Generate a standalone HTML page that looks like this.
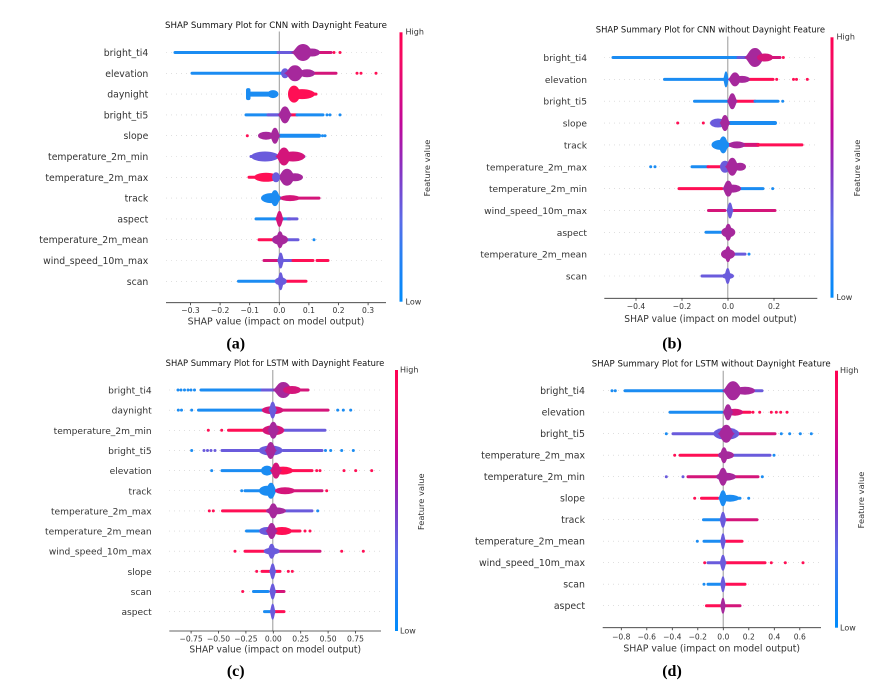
<!DOCTYPE html>
<html><head><meta charset="utf-8"><style>
html,body{margin:0;padding:0;background:#fff;}
svg{display:block;}
.l{font-family:"DejaVu Sans","Liberation Sans",sans-serif;font-size:9.3px;fill:#333;text-anchor:end;}
.t{font-family:"DejaVu Sans","Liberation Sans",sans-serif;font-size:7.6px;fill:#333;text-anchor:middle;}
.ti{font-family:"DejaVu Sans","Liberation Sans",sans-serif;font-size:8.6px;fill:#111;text-anchor:middle;}
.ax{font-family:"DejaVu Sans","Liberation Sans",sans-serif;font-size:9.3px;fill:#333;text-anchor:middle;}
.cb{font-family:"DejaVu Sans","Liberation Sans",sans-serif;font-size:8px;fill:#333;}
.fv{font-family:"DejaVu Sans","Liberation Sans",sans-serif;font-size:8.3px;fill:#333;text-anchor:middle;}
.cap{font-family:"Liberation Serif",serif;font-weight:bold;font-size:16px;fill:#000;text-anchor:middle;}
.b{fill:#1b8cf2}.r{fill:#ff0f55}.p{fill:#a6289c}.v{fill:#6a5bdc}.m{fill:#d4157a}
.sb,.sr,.sp,.sv,.sm{stroke-width:3;stroke-linecap:round;fill:none}
.sb{stroke:#1b8cf2}.sr{stroke:#ff0f55}.sp{stroke:#a6289c}.sv{stroke:#6a5bdc}.sm{stroke:#d4157a}
.g{stroke:#ccc;stroke-width:0.6;stroke-dasharray:1 4;fill:none}
.z{stroke:#999;stroke-width:1}
.a{stroke:#333;stroke-width:0.8;fill:none}
</style></head><body>
<svg width="894" height="684" viewBox="0 0 894 684" xmlns="http://www.w3.org/2000/svg">
<defs>
<linearGradient id="cg" x1="0" y1="1" x2="0" y2="0">
<stop offset="0" stop-color="#008bfb"/>
<stop offset="0.18" stop-color="#2a7ff2"/>
<stop offset="0.3" stop-color="#5a6be8"/>
<stop offset="0.5" stop-color="#8a30c0"/>
<stop offset="0.66" stop-color="#c0089a"/>
<stop offset="0.9" stop-color="#f50a62"/>
<stop offset="1" stop-color="#ff0052"/>
</linearGradient>
<path id="vi" d="M-1 0C-0.6 -0.12 -0.55 -1 0 -1C0.55 -1 0.6 -0.12 1 0C0.6 0.12 0.55 1 0 1C-0.55 1 -0.6 0.12 -1 0Z"/>
</defs>

<!-- ================= PANEL A ================= -->
<text class="ti" x="276" y="28" textLength="222" lengthAdjust="spacingAndGlyphs">SHAP Summary Plot for CNN with Daynight Feature</text>
<line class="z" x1="279.3" y1="31.5" x2="279.3" y2="302.7"/>
<g transform="translate(0,52.5)"><path class="g" d="M166 0H386"/><text class="l" x="148.3" y="3.5">bright_ti4</text>
<path class="sb" d="M175 0H288"/><path class="sv" d="M278 0H294"/><path class="sm" d="M315 0H331"/>
<use href="#vi" class="p" transform="translate(303 0) scale(12.5 8.5)"/><ellipse class="p" cx="312" rx="8" ry="4"/>
<circle class="r" cx="334" r="1.5"/><circle class="r" cx="340" r="1.5"/></g>
<g transform="translate(0,73.3)"><path class="g" d="M166 0H386"/><text class="l" x="148.3" y="3.5">elevation</text>
<path class="sb" d="M192 0H284"/><path class="sm" d="M300 0H336"/>
<ellipse class="v" cx="285" rx="4" ry="5"/><use href="#vi" class="p" transform="translate(295 0) scale(11.25 8)"/><ellipse class="p" cx="307" rx="8" ry="4"/>
<circle class="r" cx="357" r="1.5"/><circle class="r" cx="361" r="1.5"/><circle class="r" cx="376" r="1.5"/></g>
<g transform="translate(0,94.1)"><path class="g" d="M166 0H386"/><text class="l" x="148.3" y="3.5">daynight</text>
<rect class="b" x="246" y="-6" width="4.5" height="12" rx="2"/><rect class="b" x="248" y="-2.5" width="25" height="5" rx="2"/>
<ellipse class="b" cx="273" rx="5.5" ry="4"/>
<ellipse class="r" cx="294" rx="6" ry="8.5"/><ellipse class="r" cx="302" rx="13" ry="5"/><path class="sr" d="M305 0H316"/></g>
<g transform="translate(0,114.9)"><path class="g" d="M166 0H386"/><text class="l" x="148.3" y="3.5">bright_ti5</text>
<path class="sb" d="M246 0H281"/><path class="sv" d="M268 0H281"/><path class="sr" d="M289 0H297"/><path class="sb" d="M297 0H323"/>
<use href="#vi" class="p" transform="translate(285 0) scale(7.5 8.5)"/>
<circle class="b" cx="327" r="1.5"/><circle class="b" cx="330" r="1.5"/><circle class="b" cx="340" r="1.5"/></g>
<g transform="translate(0,135.7)"><path class="g" d="M166 0H386"/><text class="l" x="148.3" y="3.5">slope</text>
<circle class="r" cx="247.3" r="1.5"/><rect class="b" x="278" y="-2" width="43" height="4" rx="2"/>
<ellipse class="p" cx="266" rx="8" ry="4"/><use href="#vi" class="p" transform="translate(275 0) scale(5.6 8)"/>
<circle class="b" cx="322.5" r="1.5"/><circle class="b" cx="325" r="1.5"/></g>
<g transform="translate(0,156.5)"><path class="g" d="M166 0H386"/><text class="l" x="148.3" y="3.5">temperature_2m_min</text>
<path class="sv" d="M251 0H304"/>
<ellipse class="v" cx="265" rx="14" ry="5"/><ellipse class="m" cx="293" rx="12" ry="5"/><use href="#vi" class="m" transform="translate(284 0) scale(8.75 9)"/></g>
<g transform="translate(0,177.3)"><path class="g" d="M166 0H386"/><text class="l" x="148.3" y="3.5">temperature_2m_max</text>
<path class="sr" d="M249 0H270"/>
<ellipse class="r" cx="266" rx="12" ry="4.5"/><ellipse class="p" cx="295" rx="8" ry="4"/><use href="#vi" class="p" transform="translate(287 0) scale(10 8.5)"/><ellipse class="v" cx="276" rx="4" ry="5"/></g>
<g transform="translate(0,198.1)"><path class="g" d="M166 0H386"/><text class="l" x="148.3" y="3.5">track</text>
<path class="sm" d="M278 0H319"/>
<ellipse class="b" cx="271" rx="10" ry="5"/><use href="#vi" class="b" transform="translate(275 0) scale(6.25 8)"/><ellipse class="m" cx="290" rx="10" ry="3"/></g>
<g transform="translate(0,218.9)"><path class="g" d="M166 0H386"/><text class="l" x="148.3" y="3.5">aspect</text>
<path class="sb" d="M256 0H290"/><path class="sv" d="M288 0H297"/>
<use href="#vi" class="m" transform="translate(279.5 0) scale(4.4 8)"/></g>
<g transform="translate(0,239.7)"><path class="g" d="M166 0H386"/><text class="l" x="148.3" y="3.5">temperature_2m_mean</text>
<path class="sr" d="M259 0H276"/><path class="sv" d="M286 0H298"/>
<ellipse class="p" cx="280" rx="8" ry="5"/><use href="#vi" class="p" transform="translate(280 0) scale(5 8.5)"/>
<circle class="b" cx="314" r="1.5"/></g>
<g transform="translate(0,260.5)"><path class="g" d="M166 0H386"/><text class="l" x="148.3" y="3.5">wind_speed_10m_max</text>
<path class="sm" d="M264 0H279"/><path class="sv" d="M283 0H293"/><path class="sr" d="M293 0H313"/><path class="sr" d="M317 0H328"/>
<use href="#vi" class="v" transform="translate(280.7 0) scale(3.75 8)"/></g>
<g transform="translate(0,281.3)"><path class="g" d="M166 0H386"/><text class="l" x="148.3" y="3.5">scan</text>
<path class="sb" d="M238.5 0H277"/><path class="sr" d="M285 0H306"/>
<ellipse class="v" cx="280.7" rx="6" ry="4"/><use href="#vi" class="v" transform="translate(280.7 0) scale(3.75 9)"/></g>
<path class="a" d="M166 302.7H386"/>
<path class="a" d="M190.5 302.7v2.5M220.1 302.7v2.5M249.7 302.7v2.5M279.3 302.7v2.5M308.9 302.7v2.5M338.5 302.7v2.5M368.1 302.7v2.5"/>
<text class="t" x="190.5" y="312.8">−0.3</text><text class="t" x="220.1" y="312.8">−0.2</text><text class="t" x="249.7" y="312.8">−0.1</text><text class="t" x="279.3" y="312.8">0.0</text><text class="t" x="308.9" y="312.8">0.1</text><text class="t" x="338.5" y="312.8">0.2</text><text class="t" x="368.1" y="312.8">0.3</text>
<text class="ax" x="276" y="324.5" textLength="176.6" lengthAdjust="spacingAndGlyphs">SHAP value (impact on model output)</text>
<rect x="399.5" y="32.3" width="3" height="269.4" fill="url(#cg)"/>
<text class="cb" x="405.5" y="34.6">High</text><text class="cb" x="405.5" y="304.6">Low</text>
<text class="fv" transform="translate(430.2,168) rotate(-90)">Feature value</text>
<text class="cap" x="235.7" y="348.5">(a)</text>

<!-- ================= PANEL B ================= -->
<text class="ti" x="710.4" y="32.4" textLength="229.3" lengthAdjust="spacingAndGlyphs">SHAP Summary Plot for CNN without Daynight Feature</text>
<line class="z" x1="727.8" y1="36.5" x2="727.8" y2="298.3"/>
<g transform="translate(0,57.5)"><path class="g" d="M604 0H817"/><text class="l" x="587" y="3.5" style="font-size:9.1px">bright_ti4</text>
<path class="sb" d="M613 0H748"/><path class="sv" d="M738 0H750"/><path class="sm" d="M765 0H780"/>
<use href="#vi" class="p" transform="translate(755 0) scale(11.25 9.5)"/><ellipse class="m" cx="765" rx="8" ry="4"/>
<circle class="r" cx="783.3" r="1.5"/></g>
<g transform="translate(0,79.35)"><path class="g" d="M604 0H817"/><text class="l" x="587" y="3.5" style="font-size:9.1px">elevation</text>
<path class="sb" d="M664.5 0H725"/><path class="sr" d="M740 0H773"/>
<use href="#vi" class="b" transform="translate(726 0) scale(3.1 8)"/><ellipse class="p" cx="742" rx="8" ry="3.5"/><use href="#vi" class="p" transform="translate(735 0) scale(7.5 7)"/>
<circle class="r" cx="776.7" r="1.5"/><circle class="r" cx="793.5" r="1.5"/><circle class="r" cx="796.5" r="1.5"/><circle class="r" cx="807.3" r="1.5"/></g>
<g transform="translate(0,101.2)"><path class="g" d="M604 0H817"/><text class="l" x="587" y="3.5" style="font-size:9.1px">bright_ti5</text>
<path class="sb" d="M694.5 0H728"/><path class="sr" d="M736 0H755"/><path class="sb" d="M755 0H778"/>
<use href="#vi" class="p" transform="translate(732.3 0) scale(5.6 8)"/><circle class="b" cx="782.7" r="1.5"/></g>
<g transform="translate(0,123.05)"><path class="g" d="M604 0H817"/><text class="l" x="587" y="3.5" style="font-size:9.1px">slope</text>
<circle class="r" cx="677.7" r="1.5"/><circle class="r" cx="703.3" r="1.5"/>
<rect class="b" x="728" y="-2" width="49" height="4" rx="2"/>
<ellipse class="v" cx="718" rx="8" ry="4.5"/><use href="#vi" class="p" transform="translate(725 0) scale(5.6 8)"/></g>
<g transform="translate(0,144.9)"><path class="g" d="M604 0H817"/><text class="l" x="587" y="3.5" style="font-size:9.1px">track</text>
<rect class="m" x="728" y="-2" width="32" height="4" rx="2"/><path class="sr" d="M758 0H802"/>
<ellipse class="b" cx="720.5" rx="9" ry="5"/><use href="#vi" class="b" transform="translate(723.3 0) scale(6.25 8.5)"/><ellipse class="p" cx="737" rx="8" ry="3.5"/></g>
<g transform="translate(0,166.75)"><path class="g" d="M604 0H817"/><text class="l" x="587" y="3.5" style="font-size:9.1px">temperature_2m_max</text>
<circle class="b" cx="650.7" r="1.5"/><circle class="b" cx="655" r="1.5"/>
<path class="sb" d="M692 0H708"/><path class="sr" d="M708 0H722"/>
<ellipse class="v" cx="725" rx="5" ry="6"/><ellipse class="p" cx="740" rx="6" ry="4"/><use href="#vi" class="p" transform="translate(732.3 0) scale(7.5 9)"/></g>
<g transform="translate(0,188.6)"><path class="g" d="M604 0H817"/><text class="l" x="587" y="3.5" style="font-size:9.1px">temperature_2m_min</text>
<path class="sr" d="M679 0H722"/><path class="sb" d="M737 0H763"/>
<ellipse class="p" cx="733" rx="8" ry="4"/><use href="#vi" class="p" transform="translate(728.3 0) scale(6.25 8)"/>
<circle class="b" cx="772.7" r="1.5"/></g>
<g transform="translate(0,210.45)"><path class="g" d="M604 0H817"/><text class="l" x="587" y="3.5" style="font-size:9.1px">wind_speed_10m_max</text>
<path class="sm" d="M708.5 0H725"/><path class="sm" d="M733 0H775"/>
<use href="#vi" class="v" transform="translate(730 0) scale(3.75 8)"/></g>
<g transform="translate(0,232.3)"><path class="g" d="M604 0H817"/><text class="l" x="587" y="3.5" style="font-size:9.1px">aspect</text>
<path class="sb" d="M706 0H721"/>
<ellipse class="p" cx="728.3" rx="7" ry="5"/><use href="#vi" class="p" transform="translate(728.3 0) scale(5 8.5)"/></g>
<g transform="translate(0,254.15)"><path class="g" d="M604 0H817"/><text class="l" x="587" y="3.5" style="font-size:9.1px">temperature_2m_mean</text>
<path class="sv" d="M734 0H745"/>
<ellipse class="p" cx="728" rx="7" ry="5"/><use href="#vi" class="p" transform="translate(728 0) scale(4.4 8)"/>
<circle class="b" cx="749" r="1.5"/></g>
<g transform="translate(0,276)"><path class="g" d="M604 0H817"/><text class="l" x="587" y="3.5" style="font-size:9.1px">scan</text>
<path class="sv" d="M702 0H725"/>
<ellipse class="v" cx="728" rx="6" ry="3"/><use href="#vi" class="v" transform="translate(727.7 0) scale(3.75 8)"/></g>
<path class="a" d="M604.3 298.3H817.3"/>
<path class="a" d="M636 298.3v2.5M682 298.3v2.5M728 298.3v2.5M774 298.3v2.5"/>
<text class="t" x="636" y="308.8">−0.4</text><text class="t" x="682" y="308.8">−0.2</text><text class="t" x="728" y="308.8">0.0</text><text class="t" x="774" y="308.8">0.2</text>
<text class="ax" x="710.5" y="321.8" textLength="172.4" lengthAdjust="spacingAndGlyphs">SHAP value (impact on model output)</text>
<rect x="830.5" y="37.3" width="3" height="260.4" fill="url(#cg)"/>
<text class="cb" x="836.5" y="39.6">High</text><text class="cb" x="836.5" y="300">Low</text>
<text class="fv" transform="translate(859.8,168) rotate(-90)">Feature value</text>
<text class="cap" x="672" y="348.5">(b)</text>

<!-- ================= PANEL C ================= -->
<text class="ti" x="275" y="365.8" textLength="218.7" lengthAdjust="spacingAndGlyphs">SHAP Summary Plot for LSTM with Daynight Feature</text>
<line class="z" x1="272.8" y1="370" x2="272.8" y2="631"/>
<g transform="translate(0,390)"><path class="g" d="M169 0H381"/><text class="l" x="151.7" y="3.5" style="font-size:9.1px">bright_ti4</text>
<circle class="b" cx="178" r="1.5"/><circle class="b" cx="181" r="1.5"/><circle class="b" cx="184.5" r="1.5"/><circle class="b" cx="188" r="1.5"/><circle class="b" cx="191" r="1.5"/><circle class="b" cx="194.5" r="1.5"/>
<path class="sb" d="M201 0H268"/><path class="sv" d="M262 0H276"/><path class="sm" d="M290 0H308"/>
<use href="#vi" class="p" transform="translate(283.3 0) scale(11.25 8)"/><ellipse class="m" cx="292" rx="9" ry="4"/></g>
<g transform="translate(0,410.15)"><path class="g" d="M169 0H381"/><text class="l" x="151.7" y="3.5" style="font-size:9.1px">daynight</text>
<circle class="b" cx="178.3" r="1.5"/><circle class="b" cx="181.5" r="1.5"/><circle class="b" cx="191.7" r="1.5"/>
<path class="sb" d="M198.5 0H266"/><path class="sm" d="M280 0H328"/>
<ellipse class="m" cx="272.7" rx="11" ry="4"/><use href="#vi" class="v" transform="translate(272.7 0) scale(4.4 8.5)"/>
<circle class="b" cx="337.7" r="1.5"/><circle class="b" cx="343.3" r="1.5"/><circle class="b" cx="350.7" r="1.5"/></g>
<g transform="translate(0,430.3)"><path class="g" d="M169 0H381"/><text class="l" x="151.7" y="3.5" style="font-size:9.1px">temperature_2m_min</text>
<circle class="r" cx="208.3" r="1.5"/><circle class="r" cx="221.7" r="1.5"/>
<path class="sr" d="M228.5 0H265"/><path class="sv" d="M284 0H325"/>
<ellipse class="m" cx="273.3" rx="11" ry="5"/><use href="#vi" class="p" transform="translate(273.3 0) scale(6.25 8.5)"/></g>
<g transform="translate(0,450.45)"><path class="g" d="M169 0H381"/><text class="l" x="151.7" y="3.5" style="font-size:9.1px">bright_ti5</text>
<circle class="b" cx="191.7" r="1.5"/><circle class="v" cx="204" r="1.5"/><circle class="v" cx="207.5" r="1.5"/><circle class="v" cx="211" r="1.5"/><circle class="v" cx="215" r="1.5"/>
<path class="sv" d="M222 0H262"/><path class="sv" d="M283 0H322"/>
<ellipse class="v" cx="270.7" rx="12" ry="5"/><use href="#vi" class="p" transform="translate(270.7 0) scale(6.25 8.5)"/>
<circle class="b" cx="325.5" r="1.5"/><circle class="b" cx="330.7" r="1.5"/><circle class="b" cx="341.7" r="1.5"/><circle class="b" cx="353.3" r="1.5"/></g>
<g transform="translate(0,470.6)"><path class="g" d="M169 0H381"/><text class="l" x="151.7" y="3.5" style="font-size:9.1px">elevation</text>
<circle class="b" cx="211.7" r="1.5"/>
<path class="sb" d="M222 0H268"/><path class="sr" d="M285 0H312"/>
<ellipse class="b" cx="267" rx="6" ry="5"/><ellipse class="r" cx="283" rx="10" ry="4"/><use href="#vi" class="m" transform="translate(276 0) scale(6.25 8)"/>
<circle class="r" cx="316.7" r="1.5"/><circle class="r" cx="320" r="1.5"/><circle class="r" cx="344" r="1.5"/><circle class="r" cx="355.7" r="1.5"/><circle class="r" cx="371.7" r="1.5"/></g>
<g transform="translate(0,490.75)"><path class="g" d="M169 0H381"/><text class="l" x="151.7" y="3.5" style="font-size:9.1px">track</text>
<circle class="b" cx="241.7" r="1.5"/>
<path class="sb" d="M245 0H265"/><path class="sm" d="M278 0H322"/>
<ellipse class="b" cx="267" rx="8" ry="5"/><use href="#vi" class="b" transform="translate(271 0) scale(6.25 8)"/><ellipse class="m" cx="285" rx="10" ry="3.5"/>
<circle class="r" cx="326.7" r="1.5"/></g>
<g transform="translate(0,510.9)"><path class="g" d="M169 0H381"/><text class="l" x="151.7" y="3.5" style="font-size:9.1px">temperature_2m_max</text>
<circle class="r" cx="209.3" r="1.5"/><circle class="r" cx="213.3" r="1.5"/>
<path class="sr" d="M222.5 0H268"/><path class="sv" d="M282 0H312"/>
<ellipse class="p" cx="276" rx="10" ry="3.5"/><use href="#vi" class="p" transform="translate(273.3 0) scale(6.25 7.5)"/>
<circle class="b" cx="317.7" r="1.5"/></g>
<g transform="translate(0,531.05)"><path class="g" d="M169 0H381"/><text class="l" x="151.7" y="3.5" style="font-size:9.1px">temperature_2m_mean</text>
<path class="sb" d="M246.5 0H266"/><path class="sr" d="M285 0H300"/>
<ellipse class="v" cx="267" rx="8" ry="4"/><ellipse class="r" cx="282" rx="10" ry="4"/><use href="#vi" class="p" transform="translate(271.7 0) scale(6.25 8)"/>
<circle class="r" cx="305" r="1.5"/><circle class="r" cx="310" r="1.5"/></g>
<g transform="translate(0,551.2)"><path class="g" d="M169 0H381"/><text class="l" x="151.7" y="3.5" style="font-size:9.1px">wind_speed_10m_max</text>
<circle class="r" cx="235" r="1.5"/>
<path class="sr" d="M245 0H266"/><path class="sm" d="M276 0H320"/>
<ellipse class="v" cx="271.7" rx="8" ry="3.5"/><use href="#vi" class="v" transform="translate(271.7 0) scale(5 7.5)"/>
<circle class="r" cx="341.7" r="1.5"/><circle class="r" cx="363.3" r="1.5"/></g>
<g transform="translate(0,571.35)"><path class="g" d="M169 0H381"/><text class="l" x="151.7" y="3.5" style="font-size:9.1px">slope</text>
<circle class="r" cx="256.7" r="1.5"/><path class="sr" d="M262 0H280"/>
<use href="#vi" class="v" transform="translate(272.7 0) scale(3.75 8)"/>
<circle class="r" cx="288.3" r="1.5"/><circle class="r" cx="292.3" r="1.5"/></g>
<g transform="translate(0,591.5)"><path class="g" d="M169 0H381"/><text class="l" x="151.7" y="3.5" style="font-size:9.1px">scan</text>
<circle class="r" cx="242.7" r="1.5"/><path class="sb" d="M253.5 0H268"/><path class="sm" d="M275 0H284"/>
<use href="#vi" class="v" transform="translate(272.7 0) scale(3.75 8)"/></g>
<g transform="translate(0,611.65)"><path class="g" d="M169 0H381"/><text class="l" x="151.7" y="3.5" style="font-size:9.1px">aspect</text>
<path class="sb" d="M264.5 0H271"/><path class="sr" d="M274 0H284"/>
<use href="#vi" class="v" transform="translate(272.7 0) scale(3.1 8)"/></g>
<path class="a" d="M169.3 631H381"/>
<path class="a" d="M191.1 631v2.5M218.5 631v2.5M245.9 631v2.5M273.3 631v2.5M300.7 631v2.5M328.1 631v2.5M355.5 631v2.5"/>
<text class="t" x="191.1" y="641.5">−0.75</text><text class="t" x="218.5" y="641.5">−0.50</text><text class="t" x="245.9" y="641.5">−0.25</text><text class="t" x="273.3" y="641.5">0.00</text><text class="t" x="300.7" y="641.5">0.25</text><text class="t" x="328.1" y="641.5">0.50</text><text class="t" x="355.5" y="641.5">0.75</text>
<text class="ax" x="275.2" y="652.5" textLength="171.7" lengthAdjust="spacingAndGlyphs">SHAP value (impact on model output)</text>
<rect x="395" y="370" width="3" height="261" fill="url(#cg)"/>
<text class="cb" x="400" y="372.5">High</text><text class="cb" x="400" y="633.5">Low</text>
<text class="fv" transform="translate(424.2,501.7) rotate(-90)">Feature value</text>
<text class="cap" x="235.7" y="676">(c)</text>

<!-- ================= PANEL D ================= -->
<text class="ti" x="711.2" y="366.4" textLength="239" lengthAdjust="spacingAndGlyphs">SHAP Summary Plot for LSTM without Daynight Feature</text>
<line class="z" x1="723.2" y1="370.7" x2="723.2" y2="627.7"/>
<g transform="translate(0,390.7)"><path class="g" d="M603 0H821"/><text class="l" x="585" y="3.5" style="font-size:9.4px">bright_ti4</text>
<circle class="b" cx="612" r="1.5"/><circle class="b" cx="615.3" r="1.5"/>
<path class="sb" d="M625 0H727"/><path class="sv" d="M745 0H762"/>
<ellipse class="p" cx="745" rx="10" ry="4"/><use href="#vi" class="p" transform="translate(733 0) scale(11.25 9.5)"/></g>
<g transform="translate(0,412.2)"><path class="g" d="M603 0H821"/><text class="l" x="585" y="3.5" style="font-size:9.4px">elevation</text>
<path class="sb" d="M670 0H722"/><path class="sr" d="M735 0H750"/>
<ellipse class="m" cx="735" rx="8" ry="3.5"/><use href="#vi" class="p" transform="translate(728 0) scale(5.6 8)"/>
<circle class="r" cx="753" r="1.5"/><circle class="r" cx="759.7" r="1.5"/><circle class="r" cx="771.3" r="1.5"/><circle class="r" cx="776.3" r="1.5"/><circle class="r" cx="780.7" r="1.5"/><circle class="r" cx="787" r="1.5"/></g>
<g transform="translate(0,433.7)"><path class="g" d="M603 0H821"/><text class="l" x="585" y="3.5" style="font-size:9.4px">bright_ti5</text>
<circle class="b" cx="666.3" r="1.5"/>
<path class="sv" d="M673 0H715"/><path class="sm" d="M738 0H775"/>
<ellipse class="v" cx="726.3" rx="13" ry="6"/><use href="#vi" class="p" transform="translate(726.3 0) scale(8.75 9)"/>
<circle class="b" cx="781.3" r="1.5"/><circle class="b" cx="789.7" r="1.5"/><circle class="b" cx="800.3" r="1.5"/><circle class="b" cx="811.3" r="1.5"/></g>
<g transform="translate(0,455.2)"><path class="g" d="M603 0H821"/><text class="l" x="585" y="3.5" style="font-size:9.4px">temperature_2m_max</text>
<circle class="r" cx="674.7" r="1.5"/>
<path class="sr" d="M680 0H718"/><path class="sv" d="M730 0H770"/>
<ellipse class="p" cx="726" rx="8" ry="4"/><use href="#vi" class="p" transform="translate(724 0) scale(5 8)"/>
<circle class="b" cx="774" r="1.5"/></g>
<g transform="translate(0,476.7)"><path class="g" d="M603 0H821"/><text class="l" x="585" y="3.5" style="font-size:9.4px">temperature_2m_min</text>
<circle class="v" cx="666.3" r="1.5"/><circle class="v" cx="683" r="1.5"/>
<path class="sm" d="M688 0H718"/><path class="sm" d="M730 0H758"/>
<ellipse class="p" cx="726" rx="10" ry="4"/><use href="#vi" class="p" transform="translate(723 0) scale(6.25 9)"/>
<circle class="b" cx="762.3" r="1.5"/></g>
<g transform="translate(0,498.2)"><path class="g" d="M603 0H821"/><text class="l" x="585" y="3.5" style="font-size:9.4px">slope</text>
<circle class="r" cx="694.7" r="1.5"/>
<path class="sr" d="M701.5 0H718"/><path class="sb" d="M730 0H740"/>
<ellipse class="b" cx="730" rx="9" ry="3.5"/><use href="#vi" class="b" transform="translate(723 0) scale(5 8)"/>
<circle class="b" cx="748.7" r="1.5"/></g>
<g transform="translate(0,519.7)"><path class="g" d="M603 0H821"/><text class="l" x="585" y="3.5" style="font-size:9.4px">track</text>
<path class="sb" d="M703.5 0H720"/><path class="sm" d="M726 0H757"/>
<use href="#vi" class="v" transform="translate(723 0) scale(3.75 8)"/></g>
<g transform="translate(0,541.2)"><path class="g" d="M603 0H821"/><text class="l" x="585" y="3.5" style="font-size:9.4px">temperature_2m_mean</text>
<circle class="b" cx="697.3" r="1.5"/>
<path class="sb" d="M704 0H720"/><path class="sr" d="M725 0H742"/>
<use href="#vi" class="v" transform="translate(723 0) scale(3.1 8)"/></g>
<g transform="translate(0,562.7)"><path class="g" d="M603 0H821"/><text class="l" x="585" y="3.5" style="font-size:9.4px">wind_speed_10m_max</text>
<circle class="r" cx="704.7" r="1.5"/>
<path class="sv" d="M708 0H720"/><path class="sr" d="M726 0H765"/>
<use href="#vi" class="v" transform="translate(723 0) scale(3.75 8)"/>
<circle class="r" cx="771.3" r="1.5"/><circle class="r" cx="785.3" r="1.5"/><circle class="r" cx="803" r="1.5"/></g>
<g transform="translate(0,584.2)"><path class="g" d="M603 0H821"/><text class="l" x="585" y="3.5" style="font-size:9.4px">scan</text>
<circle class="b" cx="704" r="1.5"/>
<path class="sb" d="M708 0H720"/><path class="sr" d="M726 0H745"/>
<use href="#vi" class="v" transform="translate(723 0) scale(3.1 8)"/></g>
<g transform="translate(0,605.7)"><path class="g" d="M603 0H821"/><text class="l" x="585" y="3.5" style="font-size:9.4px">aspect</text>
<path class="sr" d="M706.5 0H720"/><path class="sm" d="M725 0H740"/>
<use href="#vi" class="p" transform="translate(723 0) scale(3.1 8)"/></g>
<path class="a" d="M602.7 627.7H821"/>
<path class="a" d="M621.3 627.7v2.5M646.8 627.7v2.5M672.3 627.7v2.5M697.8 627.7v2.5M723.3 627.7v2.5M748.8 627.7v2.5M774.3 627.7v2.5M799.8 627.7v2.5"/>
<text class="t" x="621.3" y="639.5">−0.8</text><text class="t" x="646.8" y="639.5">−0.6</text><text class="t" x="672.3" y="639.5">−0.4</text><text class="t" x="697.8" y="639.5">−0.2</text><text class="t" x="723.3" y="639.5">0.0</text><text class="t" x="748.8" y="639.5">0.2</text><text class="t" x="774.3" y="639.5">0.4</text><text class="t" x="799.8" y="639.5">0.6</text>
<text class="ax" x="711.7" y="651.5" textLength="176.7" lengthAdjust="spacingAndGlyphs">SHAP value (impact on model output)</text>
<rect x="835" y="370.7" width="3" height="257" fill="url(#cg)"/>
<text class="cb" x="840" y="373.2">High</text><text class="cb" x="840" y="630.3">Low</text>
<text class="fv" transform="translate(864.2,500) rotate(-90)">Feature value</text>
<text class="cap" x="672" y="676">(d)</text>
</svg>
</body></html>
